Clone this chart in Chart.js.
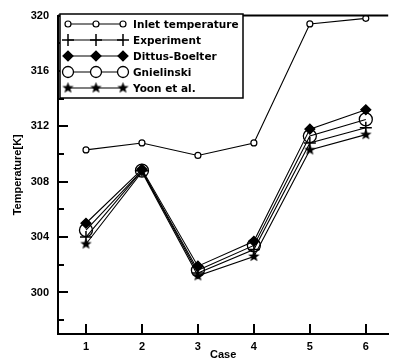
<!DOCTYPE html>
<html><head><meta charset="utf-8">
<script src="https://cdn.jsdelivr.net/npm/chart.js@4"></script>
<style>html,body{margin:0;padding:0;background:#fff}#w{width:396px;height:362px}</style>
</head><body><div id="w"><canvas id="c" width="396" height="362"></canvas></div>
<script>
const cases = [1, 2, 3, 4, 5, 6];
const seriesNames = ['Inlet temperature', 'Experiment', 'Dittus-Boelter', 'Gnielinski', 'Yoon et al.'];
const inlet = [310.3, 310.8, 309.9, 310.8, 319.4, 319.8];
const experiment = [304.0, 308.8, 301.4, 303.1, 310.8, 311.9];
const dittus = [305.0, 308.9, 301.9, 303.7, 311.8, 313.2];
const gnielinski = [304.5, 308.8, 301.6, 303.4, 311.3, 312.5];
const yoon = [303.5, 308.7, 301.2, 302.6, 310.3, 311.4];
const yMajorTicks = [300, 304, 308, 312, 316, 320];

function starCanvas(size) {
  const c = document.createElement('canvas');
  c.width = size; c.height = size;
  const g = c.getContext('2d');
  const cx = size / 2, cy = size / 2, R = size / 2 - 0.5, r = R * 0.42;
  g.beginPath();
  for (let i = 0; i < 10; i++) {
    const a = -Math.PI / 2 + i * Math.PI / 5;
    const rr = i % 2 ? r : R;
    g.lineTo(cx + rr * Math.cos(a), cy + rr * Math.sin(a));
  }
  g.closePath();
  g.fillStyle = '#000'; g.fill();
  return c;
}
const star = starCanvas(13);

const pts = arr => arr.map((v, i) => ({x: cases[i], y: v}));
const vals = [inlet, experiment, dittus, gnielinski, yoon];
const styles = [
  {pointStyle: 'circle', radius: 3, bg: '#fff', bw: 1.2},
  {pointStyle: 'cross', radius: 6, bg: '#000', bw: 1.5},
  {pointStyle: 'rectRot', radius: 5, bg: '#000', bw: 1.2},
  {pointStyle: 'circle', radius: 6.5, bg: 'rgba(255,255,255,0)', bw: 1.3},
  {pointStyle: star, radius: 6, bg: '#000', bw: 1}
];
const datasets = vals.map((v, k) => ({
  label: seriesNames[k],
  data: pts(v),
  borderColor: '#000',
  borderWidth: 1.1,
  pointStyle: styles[k].pointStyle,
  pointRadius: styles[k].radius,
  pointBackgroundColor: styles[k].bg,
  pointBorderColor: '#000',
  pointBorderWidth: styles[k].bw,
  tension: 0
}));

const LEGEND_FONT = 'bold 10.5px "DejaVu Sans", sans-serif';
const FAM = '"Liberation Sans", Arial, sans-serif';

const decor = {
  id: 'decor',
  afterDraw(chart) {
    const {ctx, chartArea: a, scales: {x, y}} = chart;
    ctx.save();
    ctx.strokeStyle = '#000';
    ctx.lineWidth = 2;
    ctx.beginPath(); ctx.moveTo(a.left, a.top); ctx.lineTo(a.right, a.top); ctx.stroke();
    for (let v = 298; v <= 320; v += 2) {
      const py = Math.round(y.getPixelForValue(v));
      const len = yMajorTicks.includes(v) ? 10 : 6;
      ctx.beginPath(); ctx.moveTo(a.left, py); ctx.lineTo(a.left + len, py); ctx.stroke();
    }
    cases.forEach(cv => {
      const px = Math.round(x.getPixelForValue(cv));
      ctx.beginPath(); ctx.moveTo(px, a.bottom); ctx.lineTo(px, a.bottom - 10); ctx.stroke();
    });
    const L = {x: 60, y: 14, w: 183, h: 84};
    ctx.fillStyle = '#fff';
    ctx.fillRect(L.x, L.y, L.w, L.h);
    ctx.lineWidth = 1.5;
    ctx.strokeRect(L.x, L.y, L.w, L.h);
    const rows = [24, 40, 56, 72, 88];
    ctx.font = LEGEND_FONT; ctx.textBaseline = 'middle'; ctx.textAlign = 'left';
    chart.data.datasets.forEach((ds, k) => {
      const ry = rows[k];
      ctx.lineWidth = 1.1; ctx.strokeStyle = '#000';
      ctx.beginPath(); ctx.moveTo(68, ry); ctx.lineTo(123, ry); ctx.stroke();
      [68, 96, 123].forEach(mx => {
        const st = styles[k];
        if (st.pointStyle instanceof HTMLCanvasElement) {
          ctx.drawImage(st.pointStyle, mx - st.pointStyle.width / 2, ry - st.pointStyle.height / 2);
        } else {
          ctx.fillStyle = st.bg === 'rgba(255,255,255,0)' ? '#fff' : st.bg;
          ctx.lineWidth = st.bw;
          const r = (k === 3) ? 5.5 : st.radius;
          Chart.helpers.drawPoint(ctx, {pointStyle: st.pointStyle, radius: r, borderWidth: st.bw}, mx, ry);
        }
      });
      ctx.fillStyle = '#000';
      ctx.fillText(ds.label, 133, ry + 1);
    });
    ctx.restore();
  }
};

new Chart(document.getElementById('c'), {
  type: 'line',
  data: {datasets},
  plugins: [decor],
  options: {
    responsive: false,
    animation: false,
    layout: {padding: {left: 11, right: 3, top: 13, bottom: 0}},
    plugins: {legend: {display: false}, tooltip: {enabled: false}},
    scales: {
      x: {
        type: 'linear', min: 0.5, max: 6.4,
        afterFit: s => { s.height = 28; },
        afterBuildTicks: s => { s.ticks = cases.map(v => ({value: v})); },
        grid: {display: false, drawTicks: false},
        border: {display: true, color: '#000', width: 2},
        ticks: {
          padding: 6, color: '#000', autoSkip: false, maxRotation: 0,
          font: {family: FAM, size: 11, weight: 'bold'},
          callback: v => String(v)
        },
        title: {display: true, text: 'Case', color: '#000', padding: {top: -3, bottom: 0},
          font: {family: FAM, size: 11, weight: 'bold'}}
      },
      y: {
        type: 'linear', min: 297, max: 320,
        afterFit: s => { s.width = 47; },
        afterBuildTicks: s => { s.ticks = yMajorTicks.map(v => ({value: v})); },
        grid: {display: false, drawTicks: false},
        border: {display: true, color: '#000', width: 2},
        ticks: {
          padding: 9, color: '#000', autoSkip: false,
          font: {family: FAM, size: 11, weight: 'bold'},
          callback: v => String(v)
        },
        title: {display: true, text: 'Temperature[K]', color: '#000', padding: {top: 0, bottom: 2},
          font: {family: FAM, size: 11, weight: 'bold'}}
      }
    }
  }
});
</script></body></html>
